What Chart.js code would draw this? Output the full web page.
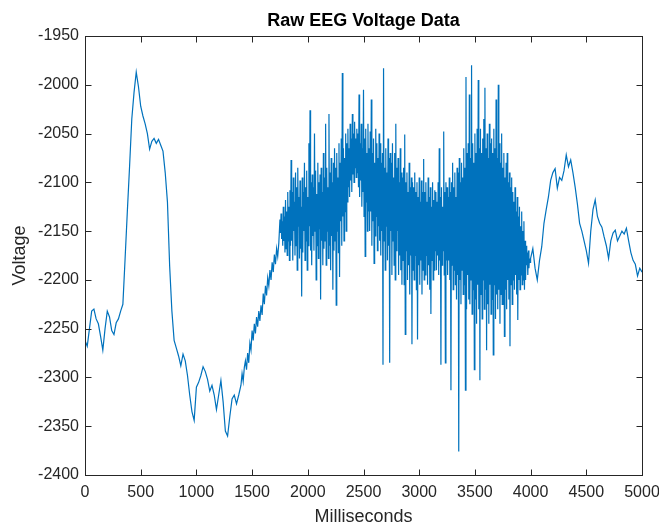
<!DOCTYPE html>
<html>
<head>
<meta charset="utf-8">
<script src="https://cdn.jsdelivr.net/npm/chart.js@4/dist/chart.umd.min.js"></script>
<style>
  body { margin: 0; background: #fff; }
  canvas { display: block; }
</style>
</head>
<body>
<canvas id="eegChart" width="659" height="527"></canvas>
<script>
// ----- Data (voltage samples) -----
// slow part: 0..1380 ms, one sample every 20 ms
const startA = 0, stepA = 20;
const voltsA = [
  -2262, -2268, -2250, -2232, -2230, -2240, -2245, -2258, -2272, -2250,
  -2232, -2238, -2252, -2256, -2244, -2240, -2232, -2225, -2178, -2130,
  -2084, -2035, -2008, -1987, -2002, -2022, -2032, -2040, -2050, -2066,
  -2058, -2055, -2060, -2056, -2062, -2068, -2090, -2120, -2186, -2232,
  -2262, -2270, -2278, -2288, -2276, -2283, -2298, -2318, -2335, -2344,
  -2310, -2305, -2298, -2289, -2294, -2302, -2314, -2308, -2318, -2333,
  -2318, -2303, -2325, -2355, -2360, -2340, -2322, -2318, -2327, -2318
];

// rising ramp: 1400..1740 ms, every 10 ms
const startA2 = 1400, stepA2 = 10;
const voltsA2 = [
  -2308, -2296, -2304, -2290, -2283, -2292, -2275, -2285, -2265, -2272,
  -2252, -2262, -2245, -2255, -2238, -2248, -2232, -2242, -2226, -2236,
  -2214, -2225, -2206, -2216, -2198, -2206, -2190, -2200, -2182, -2192,
  -2174, -2184, -2168, -2176, -2162
];

// noisy burst: 1750..3995 ms, every 5 ms
const startB = 1750, stepB = 5;
const voltsB = [
  -2138, -2152, -2132, -2158, -2140, -2165, -2125, -2160, -2135, -2172, -2118, -2168, -2130, -2175, -2110, -2160, -2125, -2180, -2108, -2165,
  -2077, -2160, -2110, -2180, -2095, -2150, -2120, -2175, -2090, -2165, -2105, -2190, -2085, -2145, -2115, -2178, -2098, -2168, -2125, -2217,
  -2095, -2172, -2110, -2150, -2080, -2180, -2105, -2160, -2088, -2190, -2115, -2165, -2060, -2145, -2026, -2170, -2100, -2185, -2092, -2155,
  -2105, -2170, -2050, -2150, -2088, -2200, -2112, -2165, -2080, -2178, -2100, -2148, -2092, -2220, -2085, -2160, -2110, -2185, -2070, -2168,
  -2095, -2160, -2040, -2185, -2085, -2150, -2105, -2178, -2030, -2165, -2090, -2190, -2075, -2155, -2100, -2210, -2080, -2170, -2065, -2160,
  -2085, -2226, -2070, -2150, -2095, -2172, -2060, -2197, -2080, -2140, -2055, -2165, -1988, -2135, -2065, -2160, -2075, -2130, -2050, -2150,
  -2060, -2120, -2045, -2105, -2065, -2115, -2040, -2098, -2055, -2110, -2030, -2092, -2050, -2100, -2038, -2085, -2055, -2095, -2045, -2090,
  -2050, -2105, -2010, -2115, -2060, -2098, -2040, -2125, -2065, -2110, -2005, -2135, -2055, -2176, -2045, -2120, -2070, -2150, -2040, -2130,
  -2065, -2150, -2048, -2130, -2015, -2165, -2070, -2140, -2055, -2183, -2080, -2155, -2045, -2135, -2060, -2170, -2075, -2145, -2050, -2160,
  -2060, -2175, -2080, -2150, -2070, -2287, -1983, -2160, -2085, -2190, -2065, -2145, -2090, -2180, -2055, -2165, -2075, -2285, -2070, -2150,
  -2080, -2195, -2060, -2160, -2095, -2185, -2070, -2200, -2040, -2170, -2085, -2150, -2075, -2195, -2100, -2175, -2065, -2190, -2090, -2205,
  -2095, -2180, -2085, -2205, -2051, -2256, -2100, -2170, -2090, -2200, -2110, -2185, -2080, -2215, -2105, -2175, -2095, -2266, -2100, -2190,
  -2105, -2200, -2090, -2175, -2110, -2210, -2100, -2261, -2115, -2185, -2095, -2205, -2120, -2180, -2098, -2215, -2110, -2190, -2076, -2200,
  -2110, -2195, -2100, -2175, -2120, -2205, -2095, -2185, -2115, -2210, -2105, -2235, -2125, -2180, -2100, -2200, -2118, -2190, -2108, -2170,
  -2110, -2190, -2120, -2175, -2100, -2195, -2065, -2180, -2115, -2287, -2105, -2185, -2125, -2170, -2048, -2195, -2110, -2285, -2100, -2180,
  -2105, -2195, -2115, -2180, -2095, -2200, -2110, -2313, -2100, -2185, -2080, -2210, -2105, -2190, -2090, -2205, -2115, -2220, -2085, -2195,
  -2090, -2376, -2075, -2200, -2100, -2225, -2080, -2190, -2095, -2215, -2065, -2205, -2085, -2313, -1992, -2230, -2070, -2195, -2060, -2220,
  -2010, -2225, -2075, -2200, -1980, -2235, -2060, -2210, -2080, -2292, -2050, -2220, -2070, -2245, -2045, -2205, -1995, -2230, -2065, -2303,
  -2045, -2215, -2070, -2240, -2055, -2200, -2035, -2230, -2003, -2210, -2065, -2272, -2050, -2225, -2075, -2245, -2040, -2205, -2060, -2235,
  -2055, -2220, -2070, -2277, -2045, -2205, -2065, -2240, -2015, -2215, -2075, -2230, -2000, -2210, -2060, -2245, -2080, -2215, -2050, -2225,
  -2085, -2225, -2070, -2258, -2095, -2210, -2080, -2230, -2070, -2200, -2100, -2220, -2090, -2268, -2105, -2205, -2095, -2225, -2110, -2200,
  -2120, -2210, -2105, -2195, -2130, -2215, -2115, -2241, -2135, -2200, -2125, -2210, -2145, -2195, -2130, -2205, -2150, -2200, -2140, -2210,
  -2160, -2200, -2165, -2185, -2172, -2195, -2170, -2188, -2178, -2182
];

// tail after the burst: 4000..5000 ms, every 20 ms
const startC = 4000, stepC = 20;
const voltsC = [
  -2178, -2168, -2188, -2200, -2180, -2166, -2142, -2128, -2115, -2098,
  -2090, -2086, -2106, -2095, -2098, -2088, -2072, -2084, -2077, -2090,
  -2105, -2122, -2142, -2150, -2160, -2170, -2183, -2150, -2128, -2118,
  -2135, -2142, -2146, -2156, -2165, -2178, -2160, -2152, -2149, -2160,
  -2155, -2150, -2153, -2147, -2160, -2172, -2180, -2184, -2196, -2188,
  -2192
];

const xTicks = [0, 500, 1000, 1500, 2000, 2500, 3000, 3500, 4000, 4500, 5000];
const yTicks = [-2400, -2350, -2300, -2250, -2200, -2150, -2100, -2050, -2000, -1950];

const points = [];
function addSegment(start, step, values) {
  values.forEach((v, i) => points.push({ x: start + i * step, y: v }));
}
addSegment(startA, stepA, voltsA);
addSegment(startA2, stepA2, voltsA2);
addSegment(startB, stepB, voltsB);
addSegment(startC, stepC, voltsC);

const axisColor = '#262626';

// MATLAB style box with ticks pointing inwards
const boxTicks = {
  id: 'boxTicks',
  afterDraw(chart) {
    const { ctx, chartArea: a, scales: { x, y } } = chart;
    const L = Math.round(a.left) + 0.5, R = Math.round(a.right) + 0.5;
    const T = Math.round(a.top) + 0.5, B = Math.round(a.bottom) + 0.5;
    const len = 6;
    ctx.save();
    ctx.strokeStyle = axisColor;
    ctx.lineWidth = 1;
    ctx.strokeRect(L, T, R - L, B - T);
    ctx.beginPath();
    xTicks.forEach((t) => {
      const px = Math.round(x.getPixelForValue(t)) + 0.5;
      ctx.moveTo(px, B); ctx.lineTo(px, B - len);
      ctx.moveTo(px, T); ctx.lineTo(px, T + len);
    });
    yTicks.forEach((t) => {
      const py = Math.round(y.getPixelForValue(t)) + 0.5;
      ctx.moveTo(L, py); ctx.lineTo(L + len, py);
      ctx.moveTo(R, py); ctx.lineTo(R - len, py);
    });
    ctx.stroke();
    ctx.restore();
  }
};

const ctx = document.getElementById('eegChart').getContext('2d');
new Chart(ctx, {
  type: 'line',
  data: {
    datasets: [{
      data: points,
      borderColor: '#0072BD',
      borderWidth: 1.2,
      pointRadius: 0,
      tension: 0,
      fill: false
    }]
  },
  options: {
    responsive: false,
    animation: false,
    layout: { padding: { left: 0, right: 17, top: 0, bottom: 0 } },
    plugins: {
      legend: { display: false },
      tooltip: { enabled: false },
      title: {
        display: true,
        text: 'Raw EEG Voltage Data',
        fullSize: false,
        color: '#000',
        font: { family: 'Liberation Sans, Arial, sans-serif', size: 18, weight: 'bold' },
        padding: { top: 10, bottom: 4.4 }
      }
    },
    scales: {
      x: {
        type: 'linear',
        min: 0,
        max: 5000,
        afterBuildTicks: (s) => { s.ticks = xTicks.map((v) => ({ value: v })); },
        afterFit: (s) => { s.height = 52; s.paddingLeft = 0; s.paddingRight = 0; },
        border: { display: false },
        grid: { display: false, drawTicks: false },
        ticks: {
          color: axisColor,
          padding: 8,
          maxRotation: 0,
          font: { family: 'Liberation Sans, Arial, sans-serif', size: 16 },
          callback: (v) => String(v)
        },
        title: {
          display: true,
          text: 'Milliseconds',
          color: axisColor,
          padding: { top: 0, bottom: -1 },
          font: { family: 'Liberation Sans, Arial, sans-serif', size: 18 }
        }
      },
      y: {
        min: -2400,
        max: -1950,
        afterBuildTicks: (s) => { s.ticks = yTicks.map((v) => ({ value: v })); },
        afterFit: (s) => { s.width = 85; s.paddingTop = 0; s.paddingBottom = 0; },
        border: { display: false },
        grid: { display: false, drawTicks: false },
        ticks: {
          color: axisColor,
          padding: 6,
          font: { family: 'Liberation Sans, Arial, sans-serif', size: 16 },
          callback: (v) => String(v)
        },
        title: {
          display: true,
          text: 'Voltage',
          color: axisColor,
          padding: { top: 9, bottom: 0 },
          font: { family: 'Liberation Sans, Arial, sans-serif', size: 18 }
        }
      }
    }
  },
  plugins: [boxTicks]
});
</script>
</body>
</html>
